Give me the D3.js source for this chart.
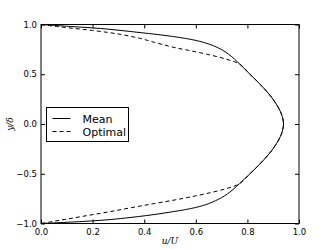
<!DOCTYPE html>
<html>
<head>
<meta charset="utf-8">
<script src="https://d3js.org/d3.v7.min.js"></script>
<style>
  body { margin: 0; background: #fff; }
  text { font-family: "DejaVu Sans", sans-serif; }
</style>
</head>
<body>
<div id="chart"></div>
<script>
// wall-normal positions (y/delta) and profile values (u/U)
var yPos = [1.0, 0.98, 0.96, 0.94, 0.92, 0.90, 0.88, 0.86, 0.84, 0.82, 0.80, 0.77, 0.74, 0.70, 0.65, 0.60,
            0.50, 0.40, 0.30, 0.20, 0.10, 0.00,
            -0.10, -0.20, -0.30, -0.40, -0.50,
            -0.60, -0.65, -0.70, -0.74, -0.77, -0.80, -0.82, -0.84, -0.86, -0.88, -0.90, -0.92, -0.94, -0.96, -0.98, -1.0];
var meanU = [0, 0.115, 0.23, 0.31, 0.38, 0.45, 0.51, 0.56, 0.60, 0.63, 0.655, 0.683, 0.705, 0.728, 0.751, 0.771,
             0.81, 0.849, 0.884, 0.912, 0.932, 0.94,
             0.932, 0.912, 0.884, 0.849, 0.81,
             0.769, 0.748, 0.724, 0.70, 0.677, 0.65, 0.627, 0.598, 0.56, 0.515, 0.465, 0.41, 0.345, 0.27, 0.16, 0];
var optimalU = [0, 0.06, 0.13, 0.20, 0.26, 0.31, 0.35, 0.385, 0.413, 0.44, 0.47, 0.515, 0.572, 0.645, 0.72, 0.771,
                0.81, 0.849, 0.884, 0.912, 0.932, 0.94,
                0.932, 0.912, 0.884, 0.849, 0.81,
                0.769, 0.717, 0.64, 0.565, 0.505, 0.437, 0.395, 0.352, 0.31, 0.27, 0.225, 0.18, 0.135, 0.09, 0.045, 0];

var xTicks = [0, 0.2, 0.4, 0.6, 0.8, 1.0];
var yTicks = [-1.0, -0.5, 0.0, 0.5, 1.0];
var seriesNames = ["Mean", "Optimal"];

var w = 332, h = 249;
var margin = {top: 24.5, right: 33, bottom: 25.5, left: 41};

var svg = d3.select("#chart").append("svg")
  .attr("width", w).attr("height", h);

var x = d3.scaleLinear().domain([0, 1]).range([margin.left, w - margin.right]);
var y = d3.scaleLinear().domain([-1, 1]).range([h - margin.bottom, margin.top]);

var fmt = function(d) { return d3.format(".1f")(d).replace("-", "\u2212"); };

// axes, ticks pointing inward like matplotlib
var tickLen = 4;
svg.append("g")
  .attr("transform", "translate(0," + (h - margin.bottom) + ")")
  .call(d3.axisBottom(x).tickValues(xTicks).tickFormat(fmt).tickSizeInner(-tickLen).tickSizeOuter(0).tickPadding(5))
  .call(function(g) { g.select(".domain").remove(); });
svg.append("g")
  .attr("transform", "translate(0," + margin.top + ")")
  .call(d3.axisTop(x).tickValues(xTicks).tickFormat("").tickSizeInner(-tickLen).tickSizeOuter(0))
  .call(function(g) { g.select(".domain").remove(); });
svg.append("g")
  .attr("transform", "translate(" + margin.left + ",0)")
  .call(d3.axisLeft(y).tickValues(yTicks).tickFormat(fmt).tickSizeInner(-tickLen).tickSizeOuter(0).tickPadding(4))
  .call(function(g) { g.select(".domain").remove(); });
svg.append("g")
  .attr("transform", "translate(" + (w - margin.right) + ",0)")
  .call(d3.axisRight(y).tickValues(yTicks).tickFormat("").tickSizeInner(-tickLen).tickSizeOuter(0))
  .call(function(g) { g.select(".domain").remove(); });

svg.selectAll(".tick text").style("font-size", "8.5px").attr("fill", "#000")
  .style("font-family", "DejaVu Sans, sans-serif");
svg.selectAll(".tick line").attr("stroke", "#000");

// curves
var line = d3.line()
  .x(function(d) { return x(d[0]); })
  .y(function(d) { return y(d[1]); })
  .curve(d3.curveCatmullRom.alpha(0.5));

var meanData = yPos.map(function(v, i) { return [meanU[i], v]; });
var optData = yPos.map(function(v, i) { return [optimalU[i], v]; });

svg.append("path").datum(meanData).attr("d", line)
  .attr("fill", "none").attr("stroke", "#000").attr("stroke-width", 1);
svg.append("path").datum(optData).attr("d", line)
  .attr("fill", "none").attr("stroke", "#000").attr("stroke-width", 1)
  .attr("stroke-dasharray", "4,3");

// frame
svg.append("rect")
  .attr("x", margin.left).attr("y", margin.top)
  .attr("width", w - margin.left - margin.right)
  .attr("height", h - margin.top - margin.bottom)
  .attr("fill", "none").attr("stroke", "#000").attr("stroke-width", 1);

// axis labels
svg.append("text")
  .attr("x", (x(0) + x(1)) / 2).attr("y", 244)
  .attr("text-anchor", "middle")
  .style("font-family", "DejaVu Serif, serif").style("font-style", "italic").style("font-size", "9px")
  .text("u/U");
svg.append("text")
  .attr("transform", "translate(12.5," + y(0) + ") rotate(-90)")
  .attr("text-anchor", "middle")
  .style("font-family", "DejaVu Serif, serif").style("font-style", "italic").style("font-size", "9px")
  .text("y/\u03b4");

// legend
var leg = svg.append("g").attr("transform", "translate(46.5,107.5)");
leg.append("rect").attr("width", 82).attr("height", 34)
  .attr("fill", "#fff").attr("stroke", "#000").attr("stroke-width", 1);
seriesNames.forEach(function(name, i) {
  var ly = 11 + i * 13;
  leg.append("line").attr("x1", 6).attr("x2", 24).attr("y1", ly).attr("y2", ly)
    .attr("stroke", "#000").attr("stroke-width", 1)
    .attr("stroke-dasharray", i === 1 ? "4,3" : null);
  leg.append("text").attr("x", 36).attr("y", ly + 4)
    .style("font-size", "11px").text(name);
});
</script>
</body>
</html>
